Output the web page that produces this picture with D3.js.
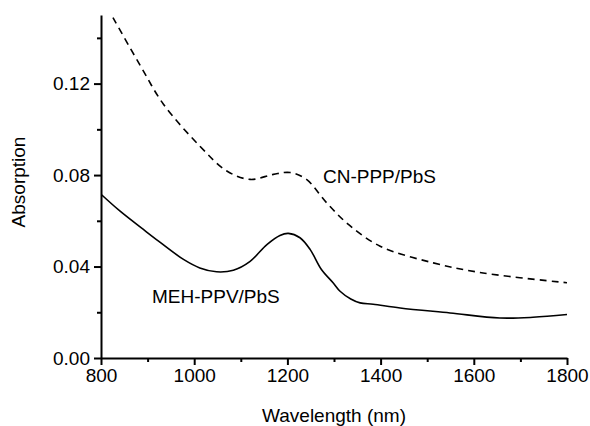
<!DOCTYPE html>
<html><head><meta charset="utf-8">
<script src="https://cdn.jsdelivr.net/npm/d3@7"></script>
<style>
body{margin:0;background:#fff;}
text{font-family:"Liberation Sans",Arial,sans-serif;fill:#000;}
</style></head>
<body>
<svg id="c" width="590" height="426"></svg>
<script>
const xTicks = [800, 1000, 1200, 1400, 1600, 1800];
const xMinor = [900, 1100, 1300, 1500, 1700];
const yTicks = [0.00, 0.04, 0.08, 0.12];
const yMinor = [0.02, 0.06, 0.10, 0.14];

const mehWl  = [800, 841, 891, 919, 977, 1012, 1048, 1084, 1120, 1156, 1184, 1202, 1227, 1249, 1273, 1298, 1313, 1336, 1356, 1384, 1442, 1549, 1656, 1727, 1800];
const mehAbs = [0.0716, 0.0642, 0.0562, 0.0518, 0.0431, 0.0394, 0.0377, 0.0384, 0.0423, 0.0496, 0.0536, 0.0545, 0.0526, 0.0474, 0.0387, 0.0329, 0.0292, 0.0258, 0.0241, 0.0235, 0.0219, 0.0197, 0.0175, 0.0178, 0.0190];

const cnWl  = [800, 826, 884, 934, 1012, 1070, 1120, 1170, 1206, 1241, 1284, 1331, 1399, 1513, 1620, 1800];
const cnAbs = [0.158, 0.1487, 0.128, 0.111, 0.0927, 0.0818, 0.0781, 0.0803, 0.0811, 0.0781, 0.0679, 0.0584, 0.0489, 0.0416, 0.0372, 0.0329];

const svg = d3.select("#c");
const L = 101, R = 567, T = 15, B = 358;
const x = d3.scaleLinear().domain([800, 1800]).range([L, R]);
const y = d3.scaleLinear().domain([0, 0.15]).range([B, T]);

svg.append("defs").append("clipPath").attr("id","clip")
  .append("rect").attr("x",L).attr("y",T).attr("width",R-L).attr("height",B-T);

const line = d3.line().x(d=>x(d[0])).y(d=>y(d[1])).curve(d3.curveCatmullRom.alpha(0.5));

svg.append("path").datum(cnWl.map((w,i)=>[w,cnAbs[i]]))
  .attr("d", line).attr("fill","none").attr("stroke","#000")
  .attr("stroke-width",1.6).attr("stroke-dasharray","7,5")
  .attr("clip-path","url(#clip)");
svg.append("path").datum(mehWl.map((w,i)=>[w,mehAbs[i]]))
  .attr("d", line).attr("fill","none").attr("stroke","#000")
  .attr("stroke-width",1.6).attr("clip-path","url(#clip)");

// axes
const xAxis = d3.axisBottom(x).tickValues(xTicks).tickFormat(d3.format("d")).tickSizeInner(7).tickSizeOuter(0).tickPadding(4);
const gx = svg.append("g").attr("transform",`translate(0,${B})`).call(xAxis);
gx.selectAll("text").attr("font-size",19);
svg.append("g").attr("transform",`translate(0,${B})`)
  .call(d3.axisBottom(x).tickValues(xMinor).tickFormat("").tickSizeInner(4).tickSizeOuter(0))
  .select(".domain").remove();

const yAxis = d3.axisLeft(y).tickValues(yTicks).tickFormat(d3.format(".2f")).tickSizeInner(7).tickSizeOuter(0).tickPadding(4);
const gy = svg.append("g").attr("transform",`translate(${L},0)`).call(yAxis);
gy.selectAll("text").attr("font-size",19);
svg.append("g").attr("transform",`translate(${L},0)`)
  .call(d3.axisLeft(y).tickValues(yMinor).tickFormat("").tickSizeInner(4).tickSizeOuter(0))
  .select(".domain").remove();

svg.selectAll(".domain, .tick line").attr("stroke","#000").attr("stroke-width",2);
svg.selectAll("g text").attr("font-family","Liberation Sans, Arial, sans-serif");

svg.append("text").attr("x",(L+R)/2).attr("y",422).attr("text-anchor","middle")
  .attr("font-size",19).text("Wavelength (nm)");
svg.append("text").attr("transform",`translate(25,182) rotate(-90)`)
  .attr("text-anchor","middle").attr("font-size",19).text("Absorption");

svg.append("text").attr("x",323).attr("y",183).attr("font-size",19).text("CN-PPP/PbS");
svg.append("text").attr("x",152).attr("y",303).attr("font-size",19).text("MEH-PPV/PbS");
</script>
</body></html>
